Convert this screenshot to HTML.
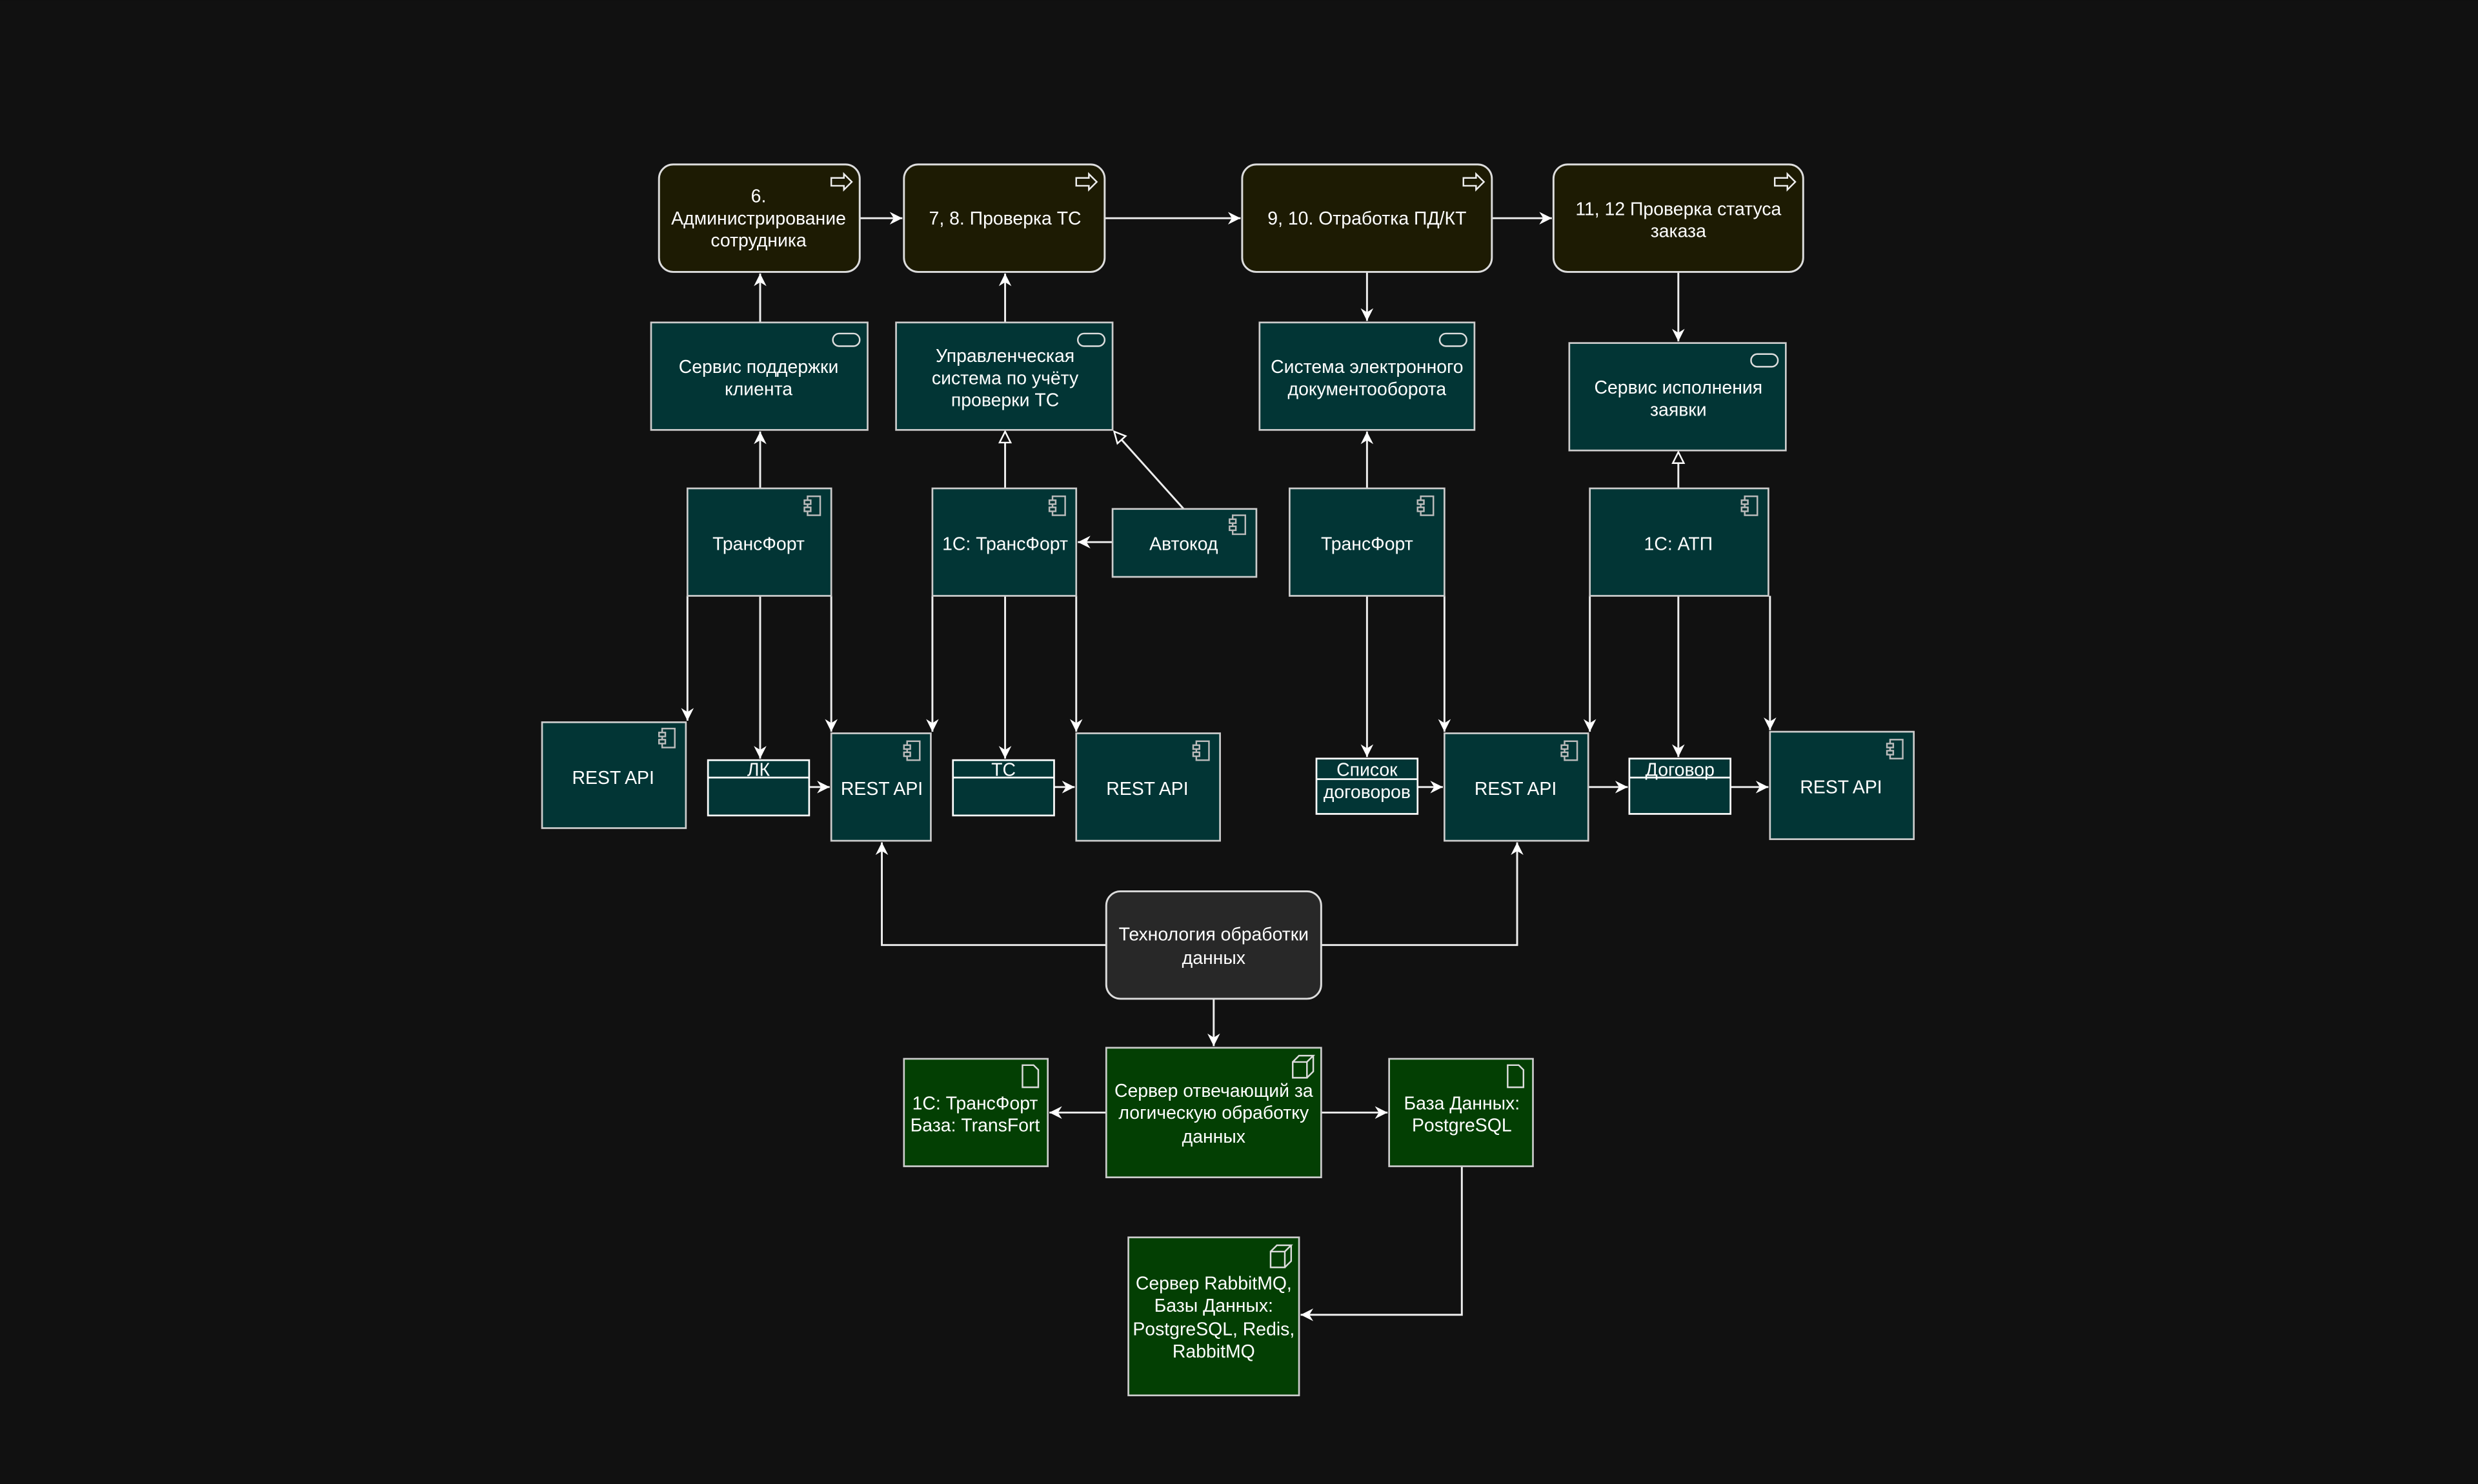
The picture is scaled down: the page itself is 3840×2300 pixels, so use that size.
<!DOCTYPE html>
<html><head><meta charset="utf-8">
<style>
html,body{margin:0;padding:0;background:#111111;}
svg{display:block;}
text{font-family:"Liberation Sans","DejaVu Sans",sans-serif;font-size:11.6px;fill:#ffffff;text-anchor:middle;}
</style></head>
<body>
<svg width="3840" height="2300" viewBox="0 0 1568 939" xmlns="http://www.w3.org/2000/svg">
<defs>
<marker id="a" markerWidth="10" markerHeight="10" refX="8" refY="5" orient="auto" markerUnits="userSpaceOnUse">
<path d="M0,1 L8,5 L0,9 L2.5,5 Z" fill="#fff"/>
</marker>
<marker id="h" markerWidth="10" markerHeight="10" refX="8" refY="5" orient="auto" markerUnits="userSpaceOnUse">
<path d="M1,1.5 L8,5 L1,8.5 Z" fill="#111" stroke="#fff" stroke-width="1"/>
</marker>
<g id="comp"><rect x="2" y="0" width="8" height="12" fill="none" stroke="#bbb" stroke-width="1"/><rect x="0" y="2.5" width="4" height="2.5" fill="#033" stroke="#bbb" stroke-width="1"/><rect x="0" y="7" width="4" height="2.5" fill="#033" stroke="#bbb" stroke-width="1"/></g>
<g id="act"><path d="M0,2.5 H8 V0 L13,5 L8,10 V7.5 H0 Z" fill="none" stroke="#eee" stroke-width="1"/></g>
<g id="svc"><rect x="0" y="0" width="17" height="8" rx="4" fill="none" stroke="#ddd" stroke-width="1"/></g>
<g id="doc"><path d="M0,0 H7 L10,3 V14 H0 Z" fill="none" stroke="#ddd" stroke-width="1"/></g>
<g id="cube"><path d="M0,4 H9 V14 H0 Z M0,4 L4,0 H13 L9,4 M13,0 V10 L9,14" fill="none" stroke="#ddd" stroke-width="1"/></g>
</defs>
<rect width="1568" height="939" fill="#111111"/>

<g stroke="#eee" stroke-width="1.2" fill="none">
<!-- top row arrows -->
<line x1="544" y1="138" x2="571" y2="138" marker-end="url(#a)"/>
<line x1="699" y1="138" x2="785" y2="138" marker-end="url(#a)"/>
<line x1="944" y1="138" x2="982" y2="138" marker-end="url(#a)"/>
<!-- services to top -->
<line x1="481" y1="204" x2="481" y2="173" marker-end="url(#a)"/>
<line x1="636" y1="204" x2="636" y2="173" marker-end="url(#a)"/>
<line x1="865" y1="172" x2="865" y2="203" marker-end="url(#a)"/>
<line x1="1062" y1="172" x2="1062" y2="216" marker-end="url(#a)"/>
<!-- components to services -->
<line x1="481" y1="309" x2="481" y2="273" marker-end="url(#a)"/>
<line x1="636" y1="309" x2="636" y2="273" marker-end="url(#h)"/>
<line x1="749" y1="322" x2="705" y2="273" marker-end="url(#h)"/>
<line x1="704" y1="343" x2="682" y2="343" marker-end="url(#a)"/>
<line x1="865" y1="309" x2="865" y2="273" marker-end="url(#a)"/>
<line x1="1062" y1="309" x2="1062" y2="286" marker-end="url(#h)"/>
<!-- components down -->
<line x1="435" y1="377" x2="435" y2="456" marker-end="url(#a)"/>
<line x1="481" y1="377" x2="481" y2="480" marker-end="url(#a)"/>
<line x1="526" y1="377" x2="526" y2="463" marker-end="url(#a)"/>
<line x1="590" y1="377" x2="590" y2="463" marker-end="url(#a)"/>
<line x1="636" y1="377" x2="636" y2="480" marker-end="url(#a)"/>
<line x1="681" y1="377" x2="681" y2="463" marker-end="url(#a)"/>
<line x1="865" y1="377" x2="865" y2="479" marker-end="url(#a)"/>
<line x1="914" y1="377" x2="914" y2="463" marker-end="url(#a)"/>
<line x1="1006" y1="377" x2="1006" y2="463" marker-end="url(#a)"/>
<line x1="1062" y1="377" x2="1062" y2="479" marker-end="url(#a)"/>
<line x1="1120" y1="377" x2="1120" y2="462" marker-end="url(#a)"/>
<!-- horizontal in rest row -->
<line x1="512" y1="498" x2="525" y2="498" marker-end="url(#a)"/>
<line x1="667" y1="498" x2="680" y2="498" marker-end="url(#a)"/>
<line x1="897" y1="498" x2="913" y2="498" marker-end="url(#a)"/>
<line x1="1005" y1="498" x2="1030" y2="498" marker-end="url(#a)"/>
<line x1="1095" y1="498" x2="1119" y2="498" marker-end="url(#a)"/>
<!-- tech -->
<polyline points="700,598 558,598 558,533" marker-end="url(#a)"/>
<polyline points="836,598 960,598 960,533" marker-end="url(#a)"/>
<line x1="768" y1="632" x2="768" y2="662" marker-end="url(#a)"/>
<line x1="700" y1="704" x2="664" y2="704" marker-end="url(#a)"/>
<line x1="836" y1="704" x2="878" y2="704" marker-end="url(#a)"/>
<polyline points="925,738 925,832 823,832" marker-end="url(#a)"/>
</g>

<!-- top row -->
<g stroke="#dddddd" stroke-width="1.2" fill="#1d1b03">
<rect x="417" y="104" width="127" height="68" rx="9"/>
<rect x="572" y="104" width="127" height="68" rx="9"/>
<rect x="786" y="104" width="158" height="68" rx="9"/>
<rect x="983" y="104" width="158" height="68" rx="9"/>
</g>
<use href="#act" x="526" y="110"/><use href="#act" x="681" y="110"/><use href="#act" x="926" y="110"/><use href="#act" x="1123" y="110"/>
<text x="480" y="128">6.</text><text x="480" y="142">Администрирование</text><text x="480" y="156">сотрудника</text>
<text x="636" y="142">7, 8. Проверка ТС</text>
<text x="865" y="142">9, 10. Отработка ПД/КТ</text>
<text x="1062" y="136">11, 12 Проверка статуса</text><text x="1062" y="150">заказа</text>

<!-- teal boxes -->
<g stroke="#cccccc" stroke-width="1.1" fill="#023535">
<rect x="412" y="204" width="137" height="68"/>
<rect x="567" y="204" width="137" height="68"/>
<rect x="797" y="204" width="136" height="68"/>
<rect x="993" y="217" width="137" height="68"/>
<rect x="435" y="309" width="91" height="68"/>
<rect x="590" y="309" width="91" height="68"/>
<rect x="704" y="322" width="91" height="43"/>
<rect x="816" y="309" width="98" height="68"/>
<rect x="1006" y="309" width="113" height="68"/>
<rect x="343" y="457" width="91" height="67"/>
<rect x="526" y="464" width="63" height="68"/>
<rect x="681" y="464" width="91" height="68"/>
<rect x="914" y="464" width="91" height="68"/>
<rect x="1120" y="463" width="91" height="68"/>
</g>
<g stroke="#ffffff" stroke-width="1.1" fill="#023535">
<rect x="448" y="481" width="64" height="35"/><line x1="448" y1="492" x2="512" y2="492"/>
<rect x="603" y="481" width="64" height="35"/><line x1="603" y1="492" x2="667" y2="492"/>
<rect x="833" y="480" width="64" height="35"/><line x1="833" y1="493" x2="897" y2="493"/>
<rect x="1031" y="480" width="64" height="35"/><line x1="1031" y1="492" x2="1095" y2="492"/>
</g>
<use href="#svc" x="527" y="211"/><use href="#svc" x="682" y="211"/><use href="#svc" x="911" y="211"/><use href="#svc" x="1108" y="224"/>
<use href="#comp" x="509" y="314"/><use href="#comp" x="664" y="314"/><use href="#comp" x="778" y="326"/><use href="#comp" x="897" y="314"/><use href="#comp" x="1102" y="314"/>
<use href="#comp" x="417" y="461"/><use href="#comp" x="572" y="469"/><use href="#comp" x="755" y="469"/><use href="#comp" x="988" y="469"/><use href="#comp" x="1194" y="468"/>

<text x="480" y="236">Сервис поддержки</text><text x="480" y="250">клиента</text>
<text x="636" y="229">Управленческая</text><text x="636" y="243">система по учёту</text><text x="636" y="257">проверки ТС</text>
<text x="865" y="236">Система электронного</text><text x="865" y="250">документооборота</text>
<text x="1062" y="249">Сервис исполнения</text><text x="1062" y="263">заявки</text>
<text x="480" y="348">ТрансФорт</text>
<text x="636" y="348">1С: ТрансФорт</text>
<text x="749" y="348">Автокод</text>
<text x="865" y="348">ТрансФорт</text>
<text x="1062" y="348">1С: АТП</text>
<text x="388" y="496">REST API</text>
<text x="558" y="503">REST API</text>
<text x="726" y="503">REST API</text>
<text x="959" y="503">REST API</text>
<text x="1165" y="502">REST API</text>
<text x="480" y="491">ЛК</text>
<text x="635" y="491">ТС</text>
<text x="865" y="491">Список</text><text x="865" y="505">договоров</text>
<text x="1063" y="491">Договор</text>

<!-- tech -->
<rect x="700" y="564" width="136" height="68" rx="9" fill="#282828" stroke="#dddddd" stroke-width="1.2"/>
<text x="768" y="595">Технология обработки</text><text x="768" y="610">данных</text>

<!-- green -->
<g stroke="#cccccc" stroke-width="1.1" fill="#033f03">
<rect x="700" y="663" width="136" height="82"/>
<rect x="572" y="670" width="91" height="68"/>
<rect x="879" y="670" width="91" height="68"/>
<rect x="714" y="783" width="108" height="100"/>
</g>
<use href="#cube" x="818" y="668"/><use href="#doc" x="647" y="674"/><use href="#doc" x="954" y="674"/><use href="#cube" x="804" y="788"/>
<text x="768" y="694">Сервер отвечающий за</text><text x="768" y="708">логическую обработку</text><text x="768" y="723">данных</text>
<text x="617" y="702">1С: ТрансФорт</text><text x="617" y="716">База: TransFort</text>
<text x="925" y="702">База Данных:</text><text x="925" y="716">PostgreSQL</text>
<text x="768" y="816">Сервер RabbitMQ,</text><text x="768" y="830">Базы Данных:</text><text x="768" y="845">PostgreSQL, Redis,</text><text x="768" y="859">RabbitMQ</text>
</svg>
</body></html>
